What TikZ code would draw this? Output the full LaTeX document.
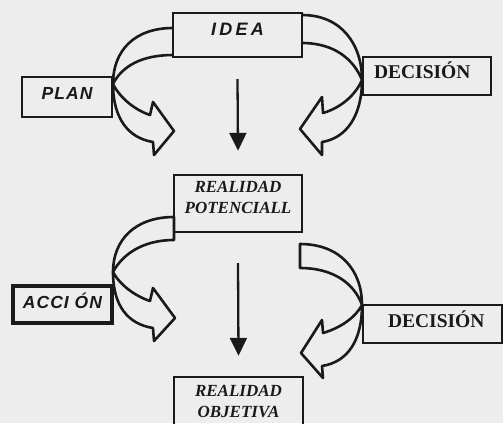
\documentclass[tikz,border=0pt]{standalone}
\usepackage{fontspec}
\setmainfont{Liberation Serif}
\newfontfamily\sanslab[LetterSpace=6]{Liberation Sans}
\newfontfamily\idealab[LetterSpace=18]{Liberation Sans}
\usetikzlibrary{arrows.meta}
\definecolor{ink}{HTML}{1A1A1A}
\definecolor{paper}{HTML}{EDEDED}
\begin{document}
\begin{tikzpicture}[x=1bp,y=-1bp,
  box/.style={draw=ink, line width=2.4bp, inner sep=0pt, text=ink},
  thickbox/.style={box, line width=4bp},
  band/.style={draw=ink, line width=2.6bp, line join=round},
  down/.style={draw=ink, line width=2.3bp, -{Triangle[width=17bp,length=18bp]}},
  ideatxt/.style={font=\idealab\bfseries\itshape\fontsize{18bp}{20bp}\selectfont},
  sanstxt/.style={font=\sanslab\bfseries\itshape\fontsize{17.5bp}{20bp}\selectfont},
  dectxt/.style={font=\bfseries\fontsize{19.5bp}{22bp}\selectfont},
  realtxt/.style={font=\bfseries\itshape\fontsize{17bp}{20.5bp}\selectfont, align=center}
]
\fill[paper] (0,0) rectangle (503,423);
\useasboundingbox (0,0) rectangle (503,423);

% boxes
\node[box, ideatxt, minimum width=129bp, text height=22bp, text depth=22bp] (idea) at (237.5,35) {IDEA};
\node[box, sanstxt, minimum width=90bp, text height=22bp, text depth=18bp] (plan) at (67,97) {PLAN};
\node[box, dectxt, text width=128bp, align=left, text height=21bp, text depth=17bp] (dec1) at (427,76) {\hspace*{11bp}DECISIÓN};
\node[box, realtxt, minimum width=128bp, text height=38bp, text depth=19bp] (pot) at (238,203.5) {REALIDAD\\POTENCIALL};
\node[thickbox, sanstxt, minimum width=99bp, text height=22bp, text depth=15bp] (acc) at (62.5,304.5) {ACCI ÓN};
\node[box, dectxt, text width=139bp, align=left, text height=22bp, text depth=16bp] (dec2) at (432.5,324) {\hspace*{25bp}DECISIÓN};
\node[box, realtxt, minimum width=129bp, text height=40bp, text depth=11bp] (obj) at (238.5,402.5) {REALIDAD\\OBJETIVA};

% straight arrows
\coordinate (d1s) at ([yshift=-21bp]idea.south);
\coordinate (d1e) at ([yshift=23bp]pot.north);
\coordinate (d2s) at ([yshift=-30bp]pot.south);
\coordinate (d2e) at ([yshift=20bp]obj.north);
\draw[down] (d1s) -- (d1e);
\draw[down] (d2s) -- (d2e);

% twisted curved arrows
\draw[band] (173,28) .. controls (135,28) and (113,50) .. (113,84)
  .. controls (113,118) and (128,138) .. (153,142)
  -- (154,155) -- (174,131) -- (153,102) -- (150,115)
  .. controls (135,110) and (120,98) .. (113,84)
  .. controls (122,66) and (142,55) .. (173,55);

\draw[band] (302,15) .. controls (342,15) and (362,45) .. (362,80)
  .. controls (362,115) and (347,138) .. (322,142)
  -- (322,155) -- (300,129) -- (322,97) -- (323,113)
  .. controls (340,108) and (355,96) .. (362,80)
  .. controls (354,60) and (335,43) .. (302,43);

\draw[band] (174,217) .. controls (135,217) and (113,240) .. (113,272)
  .. controls (113,306) and (128,324) .. (153,328)
  -- (154,341) -- (175,318) -- (153,288) -- (150,301)
  .. controls (135,296) and (120,285) .. (113,272)
  .. controls (122,255) and (142,240) .. (174,240) -- cycle;

\draw[band] (300,244) .. controls (340,244) and (362,270) .. (362,305)
  .. controls (362,340) and (348,362) .. (322,366)
  -- (323,378) -- (301,353) -- (322,320) -- (323,333)
  .. controls (340,328) and (355,318) .. (362,305)
  .. controls (355,285) and (335,268) .. (300,268) -- cycle;
\end{tikzpicture}
\end{document}
